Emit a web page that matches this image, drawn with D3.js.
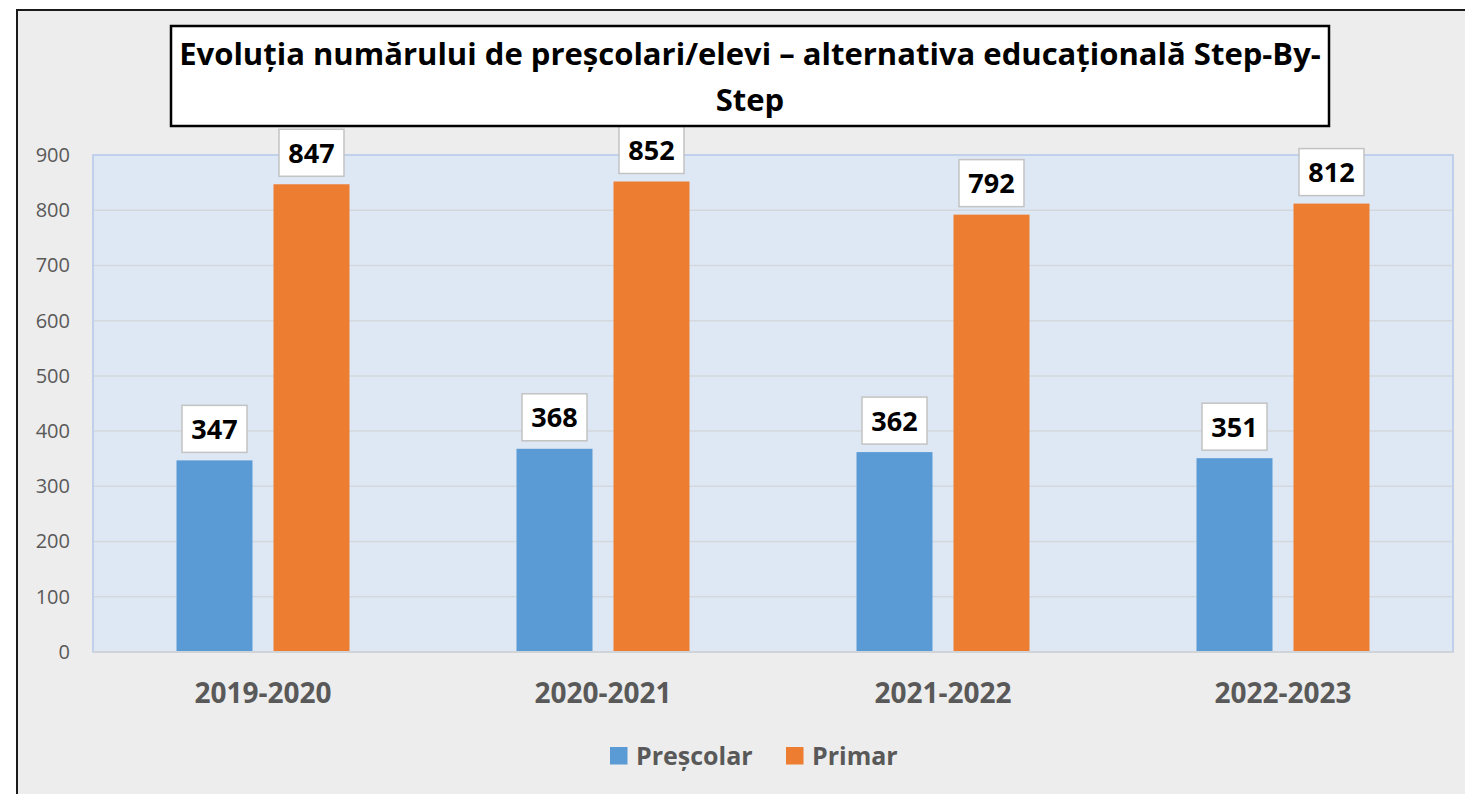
<!DOCTYPE html>
<html>
<head>
<meta charset="utf-8">
<script src="https://cdn.jsdelivr.net/npm/d3@7/dist/d3.min.js"></script>
<style>
  html, body { margin: 0; padding: 0; background: #ffffff; }
  svg { display: block; }
  text { font-family: "Open Sans", "Noto Sans", sans-serif; }
</style>
</head>
<body>
<svg id="chart" width="1465" height="794"></svg>
<script>
const categories = ["2019-2020", "2020-2021", "2021-2022", "2022-2023"];
const seriesNames = ["Preșcolar", "Primar"];
const prescolar = [347, 368, 362, 351];
const primar = [847, 852, 792, 812];
const yTicks = [0, 100, 200, 300, 400, 500, 600, 700, 800, 900];
const titleLines = ["Evoluția numărului de preșcolari/elevi – alternativa educațională Step-By-", "Step"];
const colors = ["#5b9bd5", "#ed7d31"];

const seriesValues = [prescolar, primar];
const svg = d3.select("#chart");

// outer chart area
svg.append("rect").attr("x", 17).attr("y", 10).attr("width", 1470).attr("height", 800)
  .attr("fill", "#ededed").attr("stroke", "#1a1a1a").attr("stroke-width", 2);

const plot = { left: 93, right: 1453, top: 155, bottom: 652 };

const x = d3.scaleBand().domain(categories).range([plot.left, plot.right]).padding(0);
const xInner = d3.scaleBand().domain(seriesNames).range([0, x.bandwidth()])
  .paddingInner(0.2165).paddingOuter(0.861);
const y = d3.scaleLinear().domain([0, 900]).range([plot.bottom, plot.top]);

// plot background
svg.append("rect").attr("x", plot.left).attr("y", plot.top)
  .attr("width", plot.right - plot.left).attr("height", plot.bottom - plot.top)
  .attr("fill", "#dee8f4").attr("stroke", "#b4c7e7").attr("stroke-width", 1.5);

// gridlines
svg.append("g").selectAll("line").data(yTicks.filter(d => d > 0 && d < 900)).join("line")
  .attr("x1", plot.left + 1).attr("x2", plot.right - 1)
  .attr("y1", d => y(d)).attr("y2", d => y(d))
  .attr("stroke", "#d4d8dd").attr("stroke-width", 1.5);

// y axis
const yAxis = svg.append("g").attr("transform", `translate(${plot.left},0)`)
  .call(d3.axisLeft(y).tickValues(yTicks).tickSize(0).tickPadding(23));
yAxis.select(".domain").remove();
yAxis.selectAll("text").attr("font-size", 20).attr("fill", "#595959")
  .style("font-family", '"Open Sans", sans-serif');

// bars
const groups = svg.append("g").selectAll("g").data(categories).join("g")
  .attr("transform", d => `translate(${x(d)},0)`);

seriesNames.forEach((s, si) => {
  groups.append("rect")
    .attr("x", xInner(s))
    .attr("width", xInner.bandwidth())
    .attr("y", (d, i) => y(seriesValues[si][i]))
    .attr("height", (d, i) => y(0) - y(seriesValues[si][i]))
    .attr("fill", colors[si]);
});

// zero line
svg.append("line").attr("x1", plot.left).attr("x2", plot.right)
  .attr("y1", y(0)).attr("y2", y(0)).attr("stroke", "#d0d4d9").attr("stroke-width", 2);

// data labels
seriesNames.forEach((s, si) => {
  const lg = groups.append("g")
    .attr("transform", (d, i) => `translate(${xInner(s) + xInner.bandwidth() / 2},${y(seriesValues[si][i]) - 8})`);
  lg.append("rect").attr("x", -32.5).attr("y", -47).attr("width", 65).attr("height", 47)
    .attr("fill", "#ffffff").attr("stroke", "#c3c3c3").attr("stroke-width", 1.5);
  lg.append("text").attr("x", 0).attr("y", -13.5).attr("text-anchor", "middle")
    .attr("font-size", 27).attr("font-weight", "bold").attr("fill", "#000")
    .text((d, i) => seriesValues[si][i]);
});

// x axis labels
svg.append("g").selectAll("text").data(categories).join("text")
  .attr("x", d => x(d) + x.bandwidth() / 2).attr("y", 703)
  .attr("text-anchor", "middle").attr("font-size", 28).attr("font-weight", "bold")
  .attr("fill", "#595959").text(d => d);

// title box
svg.append("rect").attr("x", 171).attr("y", 26).attr("width", 1158).attr("height", 100)
  .attr("fill", "#ffffff").attr("stroke", "#000").attr("stroke-width", 2.5);
const t1 = svg.append("text").attr("x", 750).attr("y", 65).attr("text-anchor", "middle")
  .attr("font-size", 26).attr("font-weight", "bold").attr("fill", "#000").text(titleLines[0]);
const w = t1.node().getComputedTextLength();
const fs = 26 * 1142 / w;
t1.attr("font-size", fs);
svg.append("text").attr("x", 750).attr("y", 111).attr("text-anchor", "middle")
  .attr("font-size", fs).attr("font-weight", "bold").attr("fill", "#000").text(titleLines[1]);

// legend
const legendX = [610, 786];
const lg = svg.append("g");
seriesNames.forEach((s, i) => {
  lg.append("rect").attr("x", legendX[i]).attr("y", 747).attr("width", 17.5).attr("height", 17.5)
    .attr("fill", colors[i]);
  lg.append("text").attr("x", legendX[i] + 26).attr("y", 765)
    .attr("font-size", 25).attr("font-weight", "bold").attr("fill", "#595959").text(s);
});
</script>
</body>
</html>
